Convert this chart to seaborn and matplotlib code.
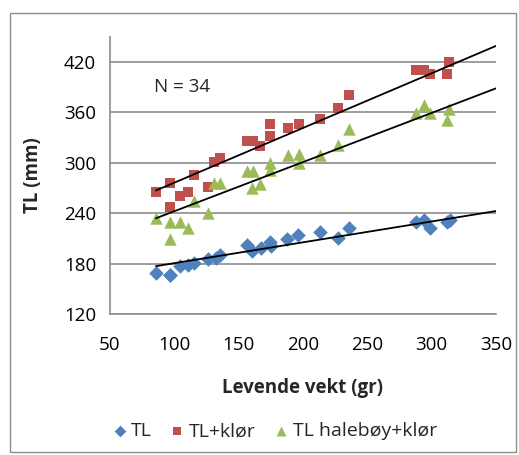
import numpy as np
import pandas as pd
import seaborn as sns
import matplotlib
matplotlib.use("Agg")
import matplotlib.pyplot as plt
from matplotlib.patches import Rectangle
from matplotlib.ticker import MultipleLocator

# ---- data ----
series_names = ["TL", "TL+klør", "TL halebøy+klør"]

tl_x = [85.7, 96.7, 96.7, 104.5, 110.7, 114.9, 126.5, 132.2, 135.5, 156.7, 160.6,
        167.1, 174.0, 174.8, 187.8, 196.5, 213.0, 227.0, 236.0, 288.0, 294.2,
        298.8, 311.8, 314.3]
tl_y = [168.5, 166.4, 167.0, 177.1, 178.0, 181.1, 185.5, 186.3, 190.2, 202.1, 195.4,
        198.2, 206.0, 201.0, 209.3, 214.0, 217.3, 210.1, 222.7, 229.2, 231.9,
        222.0, 229.9, 231.9]

klor_x = [85.7, 96.7, 96.7, 104.5, 110.7, 114.9, 126.5, 131.2, 135.5, 156.2, 161.4,
          166.5, 174.0, 174.0, 188.2, 196.7, 213.0, 227.0, 236.0, 288.0, 294.2,
          298.8, 311.8, 313.8]
klor_y = [265.6, 276.3, 247.7, 260.8, 265.6, 285.5, 270.8, 301.0, 306.0, 326.3, 326.3,
          320.4, 346.2, 331.9, 341.1, 346.2, 351.8, 365.6, 380.7, 410.5, 410.5,
          405.7, 405.7, 420.4]

hale_x = [85.7, 96.7, 96.7, 104.5, 110.7, 114.9, 126.5, 131.2, 135.5, 156.2, 161.4,
          160.0, 166.5, 174.0, 174.0, 188.0, 196.7, 196.7, 213.0, 227.0, 236.0,
          288.0, 294.2, 298.8, 311.8, 313.8]
hale_y = [234.3, 229.9, 209.3, 229.9, 222.7, 254.5, 239.9, 275.4, 275.4, 290.6, 290.6,
          269.6, 274.8, 300.1, 291.4, 309.3, 310.5, 300.1, 309.3, 320.6, 340.2,
          359.3, 368.8, 359.3, 351.0, 364.0]

# linear trendlines as drawn in the reference (slope, intercept), forecast to 350
trend_slope = [0.248, 0.651, 0.585]
trend_intercept = [155.7, 211.2, 183.8]
trend_end = 350

x_ticks = [50, 100, 150, 200, 250, 300, 350]
y_ticks = [120, 180, 240, 300, 360, 420]
n_label = "N = 34"

colors = {"TL": "#4F81BD", "TL+klør": "#C0504D", "TL halebøy+klør": "#9BBB59"}
markers = {"TL": "D", "TL+klør": "s", "TL halebøy+klør": "^"}
sizes = {"TL": 55, "TL+klør": 55, "TL halebøy+klør": 80}

df = pd.concat([
    pd.DataFrame({"vekt": tl_x, "len": tl_y, "serie": "TL"}),
    pd.DataFrame({"vekt": klor_x, "len": klor_y, "serie": "TL+klør"}),
    pd.DataFrame({"vekt": hale_x, "len": hale_y, "serie": "TL halebøy+klør"}),
], ignore_index=True)

sns.set_theme(style="white")
plt.rcParams["font.family"] = ["Open Sans", "DejaVu Sans"]

FS = 13.5

fig = plt.figure(figsize=(5.19, 4.55), dpi=100)
ax = fig.add_axes([110 / 519, 1 - 314 / 455, (496 - 110) / 519, (314 - 36.7) / 455])

# outer chart border
fig.patches.append(Rectangle((10 / 519, 3 / 455), 506 / 519, 439 / 455,
                             transform=fig.transFigure, fill=False,
                             edgecolor="#8c8c8c", linewidth=1.0, zorder=0))

for name in series_names:
    sub = df[df.serie == name]
    sns.scatterplot(data=sub, x="vekt", y="len", ax=ax, color=colors[name],
                    marker=markers[name], s=sizes[name], linewidth=0,
                    label=name, zorder=3)

for name, k, m in zip(series_names, trend_slope, trend_intercept):
    sub = df[df.serie == name]
    xs = np.array([sub.vekt.min(), trend_end])
    sns.lineplot(x=xs, y=k * xs + m, ax=ax, color="black", linewidth=1.3,
                 zorder=4, legend=False)

ax.set_xlim(50, 350)
ax.set_ylim(120, 450)
ax.set_xticks(x_ticks)
ax.set_yticks(y_ticks)
ax.xaxis.set_minor_locator(MultipleLocator(25))
ax.yaxis.set_minor_locator(MultipleLocator(30))
ax.grid(axis="y", which="major", color="#8c8c8c", linewidth=1.2)
ax.set_axisbelow(True)
for side in ["top", "right"]:
    ax.spines[side].set_visible(False)
for side in ["left", "bottom"]:
    ax.spines[side].set_color("#8c8c8c")
    ax.spines[side].set_linewidth(1.2)
ax.tick_params(axis="both", which="both", direction="out", color="#8c8c8c",
               width=1.2, labelsize=FS, labelcolor="black")
ax.tick_params(axis="both", which="major", length=6)
ax.tick_params(axis="both", which="minor", length=4)
ax.tick_params(axis="x", which="major", pad=10)
ax.tick_params(axis="y", which="major", pad=4)

ax.set_xlabel("Levende vekt (gr)", fontsize=FS, fontweight="bold", labelpad=17)
ax.set_ylabel("TL (mm)", fontsize=FS, fontweight="bold", labelpad=15)

ax.text(84, 390, n_label, fontsize=FS, va="center", ha="left")

handles, labels = ax.get_legend_handles_labels()
ax.legend(handles, labels, loc="center", bbox_to_anchor=(0.527, 0.052),
          bbox_transform=fig.transFigure, ncol=3, frameon=False, fontsize=14,
          handletextpad=0.1, columnspacing=0.8, handlelength=1.0,
          markerscale=0.8)

fig.savefig("out.png", dpi=100)
